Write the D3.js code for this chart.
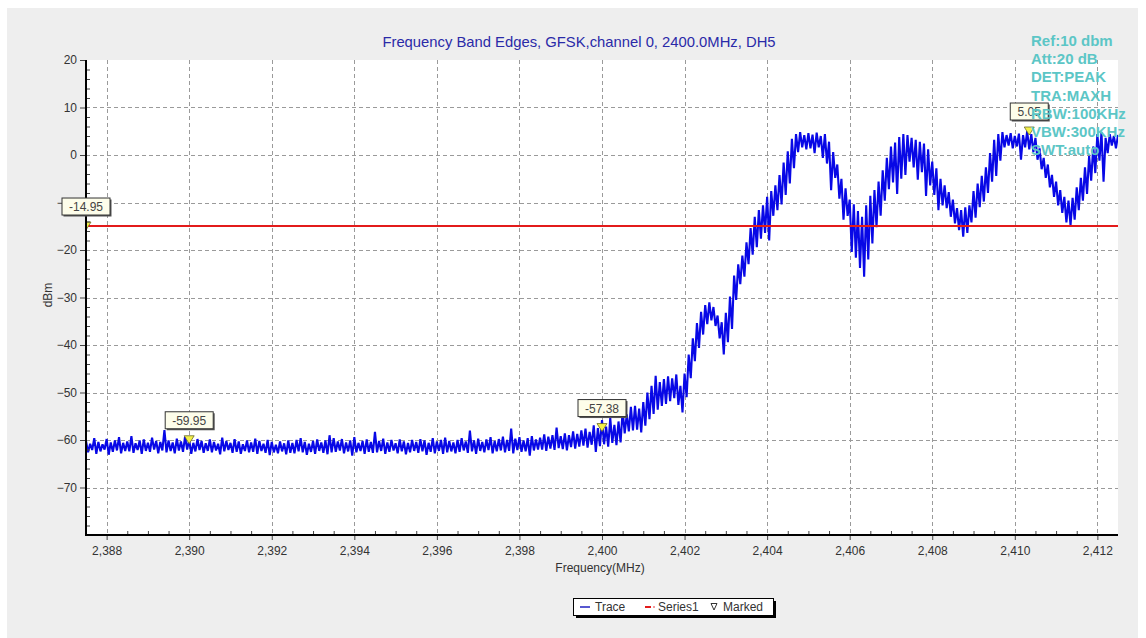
<!DOCTYPE html>
<html>
<head>
<meta charset="utf-8">
<script src="https://cdn.jsdelivr.net/npm/d3@7"></script>
<style>
  body { margin: 0; background: #fff; }
  svg { display: block; font-family: "Liberation Sans", Arial, sans-serif; }
</style>
</head>
<body>
<svg id="chart" width="1146" height="638"></svg>
<script>
// sweep: 2387.5 .. 2412.5 MHz, one bin every 0.1 MHz (max / min of the trace in each bin)
var sweepStart = 2387.5;
var sweepStep = 0.1;

var traceHi = [
  -60.2,-60.8,-59.6,-60.4,-60.9,-59.8,-60.5,-60.1,-59.4,-60.6,
  -60.3,-59.2,-60.7,-60.1,-59.9,-60.6,-59.5,-60.2,-60.4,-57.9,
  -60.1,-60.5,-59.7,-60.3,-59.3,-60.0,-60.6,-59.8,-60.2,-60.7,
  -59.9,-60.4,-60.8,-59.5,-60.2,-60.6,-59.8,-60.3,-60.9,-60.1,
  -60.5,-59.7,-60.2,-60.8,-60.0,-60.4,-61.0,-60.3,-60.7,-60.1,
  -60.6,-60.0,-59.6,-60.4,-60.8,-60.2,-59.9,-60.5,-60.1,-59.0,
  -59.6,-60.3,-59.8,-60.5,-60.1,-59.4,-60.6,-60.2,-59.9,-60.4,
  -58.3,-60.2,-59.7,-60.5,-60.0,-60.7,-59.9,-60.3,-60.6,-60.0,
  -60.4,-59.8,-60.1,-60.6,-59.6,-60.3,-60.0,-59.5,-60.2,-60.5,
  -60.0,-59.6,-60.3,-58.0,-60.1,-59.7,-60.4,-59.9,-59.4,-60.2,
  -59.8,-59.3,-60.0,-57.6,-59.7,-59.4,-60.1,-59.6,-59.2,-59.9,
  -59.5,-58.8,-59.3,-59.0,-57.4,-59.2,-58.6,-59.0,-58.2,-58.7,
  -58.0,-57.6,-58.3,-56.9,-57.5,-55.8,-57.2,-55.4,-56.8,-56.1,
  -53.8,-54.6,-53.0,-52.8,-53.4,-52.0,-50.0,-48.6,-46.5,-47.8,
  -47.2,-46.6,-47.0,-46.2,-48.6,-46.0,-42.0,-38.6,-35.4,-33.0,
  -31.6,-31.0,-32.0,-33.8,-35.2,-33.2,-29.8,-25.4,-23.0,-21.2,
  -18.4,-15.4,-13.0,-11.6,-10.6,-8.8,-7.6,-6.4,-4.2,-1.6,
  0.8,3.4,4.4,4.8,4.2,4.6,4.3,4.7,4.0,4.4,
  2.8,0.6,-2.0,-5.0,-7.0,-9.4,-10.4,-11.8,-13.0,-10.6,
  -8.6,-7.4,-5.6,-3.2,-0.6,1.8,2.6,3.8,4.4,4.2,
  3.6,3.2,2.8,2.4,1.2,-1.4,-2.8,-5.0,-6.4,-7.8,
  -9.4,-11.2,-11.6,-11.0,-10.6,-7.6,-6.0,-4.4,-2.6,0.4,
  3.2,4.4,4.8,4.2,4.6,4.0,4.5,4.2,5.0,4.4,
  3.6,1.4,-0.6,-2.0,-4.2,-5.6,-7.4,-8.8,-9.6,-9.0,
  -6.8,-4.8,-2.6,-0.2,1.8,4.4,4.8,3.6,4.4,4.0,
  4.2
];

var traceLo = [
  -62.6,-62.1,-62.9,-62.4,-62.0,-63.1,-62.5,-62.2,-62.8,-62.3,
  -62.4,-62.7,-62.1,-62.9,-62.3,-62.5,-62.0,-62.8,-62.2,-62.6,
  -62.3,-62.8,-62.2,-62.5,-62.0,-62.9,-62.4,-62.1,-62.7,-62.3,
  -62.6,-62.2,-63.0,-62.4,-62.1,-62.7,-62.5,-62.9,-62.3,-62.6,
  -62.5,-62.9,-62.3,-62.7,-63.2,-62.6,-62.8,-62.4,-63.0,-62.7,
  -62.8,-62.4,-62.6,-63.1,-62.5,-62.9,-62.3,-62.7,-63.0,-62.6,
  -62.5,-62.2,-62.8,-62.4,-63.3,-62.6,-62.3,-62.9,-62.5,-62.7,
  -62.6,-62.3,-62.9,-62.5,-62.2,-62.8,-62.4,-63.0,-62.6,-62.3,
  -62.7,-62.4,-63.1,-62.5,-62.8,-62.3,-62.9,-62.6,-62.4,-62.8,
  -62.5,-62.2,-62.7,-62.4,-62.9,-62.3,-62.6,-62.1,-62.8,-62.4,
  -62.2,-62.6,-62.3,-62.8,-62.1,-62.5,-62.4,-63.3,-62.2,-62.0,
  -62.0,-62.3,-61.8,-62.1,-61.7,-61.9,-62.2,-61.5,-61.8,-61.4,
  -61.2,-61.6,-61.0,-62.5,-61.3,-60.9,-61.4,-60.6,-61.1,-60.5,
  -58.6,-58.2,-58.0,-57.8,-58.4,-57.0,-55.6,-54.5,-53.6,-52.8,
  -52.4,-51.8,-51.2,-52.6,-54.2,-51.0,-47.0,-43.4,-40.6,-37.8,
  -35.6,-34.8,-36.0,-38.6,-42.0,-39.4,-36.6,-30.5,-27.2,-25.6,
  -23.0,-21.0,-19.4,-17.6,-16.4,-18.0,-12.8,-11.6,-10.4,-8.4,
  -6.0,-2.8,0.6,1.6,1.2,1.4,0.4,1.6,-0.6,-1.8,
  -7.4,-4.8,-9.2,-13.6,-12.8,-20.4,-21.6,-23.8,-25.6,-22.0,
  -18.6,-15.2,-12.8,-9.6,-7.2,-5.8,-8.2,-5.0,-4.2,-1.4,
  -2.6,-5.2,-3.6,-8.6,-6.4,-8.4,-11.6,-10.6,-11.2,-13.0,
  -14.4,-15.8,-17.2,-16.4,-14.2,-13.2,-11.0,-9.8,-8.0,-5.6,
  -4.4,-1.2,1.6,2.0,1.4,1.8,-1.0,1.6,1.2,0.6,
  -1.0,-3.0,-4.8,-6.8,-8.8,-10.6,-12.2,-14.2,-14.8,-13.6,
  -11.6,-9.6,-8.2,-5.4,-3.8,-1.2,-5.6,0.4,2.0,1.4,
  2.6
];

var limitLevel = -14.95;   // Series1
var markerFreq = [2387.5, 2390.0, 2400.0, 2410.35];
var markerLevel = [-14.95, -59.95, -57.38, 5.05];
var markerText = ["-14.95", "-59.95", "-57.38", "5.05"];

var xTicks = [2388, 2390, 2392, 2394, 2396, 2398, 2400, 2402, 2404, 2406, 2408, 2410, 2412];
var yTicks = [20, 10, 0, -10, -20, -30, -40, -50, -60, -70];
var yGrid = [10, 0, -10, -20, -30, -40, -50, -60, -70];
var infoLines = ["Ref:10 dbm", "Att:20 dB", "DET:PEAK", "TRA:MAXH", "RBW:100KHz", "VBW:300KHz", "SWT:auto"];

var svg = d3.select("#chart");
var plotL = 86, plotR = 1118, plotT = 60, plotB = 535;

var x = d3.scaleLinear().domain([2387.5, 2412.5]).range([plotL, plotR]);
var y = d3.scaleLinear().domain([-80, 20]).range([plotB, plotT]);

// background panel + plot area
svg.append("rect").attr("x", 7).attr("y", 8).attr("width", 1131).attr("height", 630).attr("fill", "#eeeeee");
svg.append("rect").attr("x", plotL).attr("y", plotT).attr("width", plotR - plotL).attr("height", plotB - plotT).attr("fill", "#fff");

svg.append("clipPath").attr("id", "plotclip")
  .append("rect").attr("x", plotL).attr("y", plotT).attr("width", plotR - plotL).attr("height", plotB - plotT);

// grid
var grid = svg.append("g").attr("stroke", "#9a9a9a").attr("stroke-width", 1).attr("stroke-dasharray", "4,3");
grid.selectAll(".gy").data(yGrid).enter().append("line")
  .attr("x1", plotL).attr("x2", plotR)
  .attr("y1", function(d){ return Math.round(y(d)) + 0.5; })
  .attr("y2", function(d){ return Math.round(y(d)) + 0.5; });
grid.selectAll(".gx").data(xTicks).enter().append("line")
  .attr("y1", plotT).attr("y2", plotB)
  .attr("x1", function(d){ return Math.round(x(d)) + 0.5; })
  .attr("x2", function(d){ return Math.round(x(d)) + 0.5; });

// trace: zigzag between max and min of each bin
var tracePts = [];
traceHi.forEach(function(v, i){
  var f = sweepStart + i * sweepStep;
  tracePts.push([f, v]);
  tracePts.push([f + sweepStep / 2, traceLo[i]]);
});
var line = d3.line().x(function(d){ return x(d[0]); }).y(function(d){ return y(d[1]); });
var plot = svg.append("g").attr("clip-path", "url(#plotclip)");
plot.append("path").datum(tracePts)
  .attr("d", line)
  .attr("fill", "none")
  .attr("stroke", "#0808e6")
  .attr("stroke-width", 2.1)
  .attr("stroke-linejoin", "miter")
  .attr("stroke-miterlimit", 2);

// Series1 limit line
plot.append("line")
  .attr("x1", plotL).attr("x2", plotR)
  .attr("y1", y(limitLevel)).attr("y2", y(limitLevel))
  .attr("stroke", "#e31b1b").attr("stroke-width", 2.2);

// marker triangles
plot.selectAll(".mk").data(markerFreq).enter().append("path")
  .attr("d", function(d, i){
    var cx = x(d), cy = y(markerLevel[i]);
    return "M" + (cx - 5) + "," + (cy - 4) + "L" + (cx + 5) + "," + (cy - 4) + "L" + cx + "," + (cy + 4) + "Z";
  })
  .attr("fill", "#f3f04a").attr("stroke", "#6b6a2a").attr("stroke-width", 0.8);

// axes
var xAxis = svg.append("g").attr("transform", "translate(0," + plotB + ")")
  .call(d3.axisBottom(x).tickValues(xTicks).tickFormat(d3.format(",")).tickSize(5).tickPadding(6));
var xMinor = svg.append("g").attr("transform", "translate(0," + plotB + ")")
  .call(d3.axisBottom(x).tickValues(d3.range(2388, 2412.5, 0.5).filter(function(v){ return v % 2 !== 0; })).tickSize(-4).tickFormat(""));
var yAxis = svg.append("g").attr("transform", "translate(" + plotL + ",0)")
  .call(d3.axisLeft(y).tickValues(yTicks).tickSize(6).tickPadding(3));
var yMinor = svg.append("g").attr("transform", "translate(" + plotL + ",0)")
  .call(d3.axisLeft(y).tickValues(d3.range(-78, 20, 2).filter(function(v){ return v % 10 !== 0; })).tickSize(-4).tickFormat(""));

[xAxis, xMinor, yAxis, yMinor].forEach(function(a){
  a.select(".domain").remove();
  a.selectAll(".tick line").attr("stroke", "#444");
  a.selectAll("text").attr("fill", "#333").style("font-size", "12px").style("font-family", "Liberation Sans, Arial, sans-serif");
});

svg.append("line").attr("x1", plotL).attr("x2", plotL).attr("y1", plotT).attr("y2", plotB + 1)
  .attr("stroke", "#000").attr("stroke-width", 2);
svg.append("line").attr("x1", plotL - 1).attr("x2", plotR).attr("y1", plotB).attr("y2", plotB)
  .attr("stroke", "#000").attr("stroke-width", 2.2);

// axis titles
svg.append("text").attr("x", 600).attr("y", 572).attr("text-anchor", "middle")
  .attr("fill", "#333").style("font-size", "12px").text("Frequency(MHz)");
svg.append("text").attr("transform", "translate(52,295) rotate(-90)").attr("text-anchor", "middle")
  .attr("fill", "#333").style("font-size", "12px").text("dBm");

// chart title
svg.append("text").attr("x", 579).attr("y", 47).attr("text-anchor", "middle")
  .attr("fill", "#2a2aa8").style("font-size", "14.8px")
  .text("Frequency Band Edges, GFSK,channel 0, 2400.0MHz, DH5");

// marker value boxes
var labels = svg.selectAll(".mlab").data(markerFreq).enter().append("g");
labels.each(function(d, i){
  var g = d3.select(this);
  var cx = x(d), cy = y(markerLevel[i]);
  var w = markerText[i].length > 4 ? 48 : 38, h = 17;
  var bx = cx - w / 2, by = cy - 11 - h;
  g.append("rect").attr("x", bx + 1.5).attr("y", by + 1.5).attr("width", w).attr("height", h).attr("fill", "#555");
  g.append("rect").attr("x", bx).attr("y", by).attr("width", w).attr("height", h)
    .attr("fill", "#fdfdea").attr("stroke", "#333").attr("stroke-width", 1);
  g.append("text").attr("x", cx).attr("y", by + 13).attr("text-anchor", "middle")
    .attr("fill", "#444").style("font-size", "12px").text(markerText[i]);
});

// analyzer settings
svg.append("g").selectAll("text").data(infoLines).enter().append("text")
  .attr("x", 1031).attr("y", function(d, i){ return 46 + i * 18.2; })
  .attr("fill", "#5cc6c6").style("font-size", "15px").style("font-weight", "bold")
  .text(function(d){ return d; });

// legend
var lg = svg.append("g");
lg.append("rect").attr("x", 576).attr("y", 601).attr("width", 200).attr("height", 17).attr("fill", "#000");
lg.append("rect").attr("x", 573.5).attr("y", 598.5).attr("width", 200).attr("height", 17)
  .attr("fill", "#fff").attr("stroke", "#000").attr("stroke-width", 1);
lg.append("line").attr("x1", 580).attr("x2", 590).attr("y1", 607).attr("y2", 607).attr("stroke", "#2020c0").attr("stroke-width", 1.5);
lg.append("text").attr("x", 595).attr("y", 611).attr("fill", "#333").style("font-size", "12px").text("Trace");
lg.append("line").attr("x1", 645).attr("x2", 651).attr("y1", 607).attr("y2", 607).attr("stroke", "#e31b1b").attr("stroke-width", 2);
lg.append("circle").attr("cx", 654).attr("cy", 607).attr("r", 0.8).attr("fill", "#e31b1b");
lg.append("text").attr("x", 658).attr("y", 611).attr("fill", "#333").style("font-size", "12px").text("Series1");
lg.append("path").attr("d", "M711,603.5L717,603.5L714,610Z").attr("fill", "none").attr("stroke", "#333").attr("stroke-width", 1);
lg.append("text").attr("x", 723).attr("y", 611).attr("fill", "#333").style("font-size", "12px").text("Marked");
</script>
</body>
</html>
